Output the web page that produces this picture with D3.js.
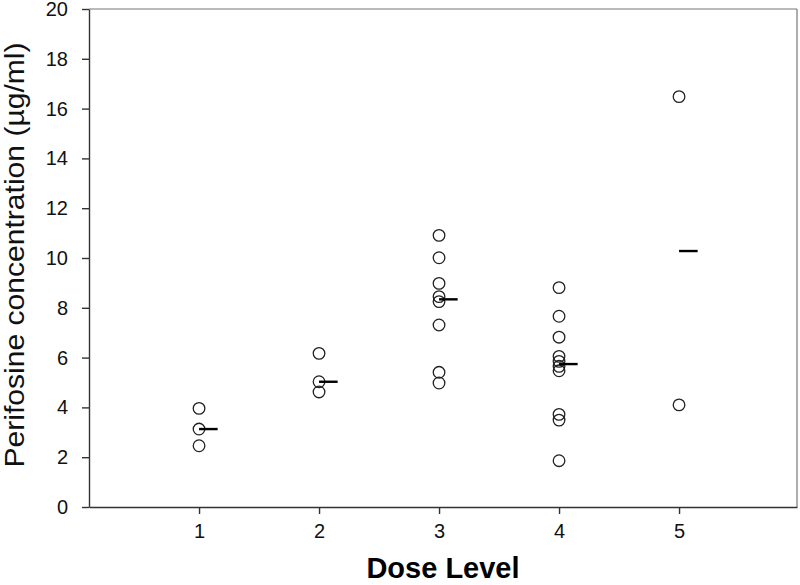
<!DOCTYPE html>
<html>
<head>
<meta charset="utf-8">
<script src="https://cdn.jsdelivr.net/npm/d3@7"></script>
<style>
  html, body { margin: 0; padding: 0; background: #fff; }
  svg { display: block; font-family: "Liberation Sans", Arial, Helvetica, sans-serif; }
  .axis path, .axis line { stroke: #333; stroke-width: 1.4; }
  .axis text { fill: #111; font-size: 20px; }
</style>
</head>
<body>
<svg id="chart" width="800" height="585"></svg>
<script>
// ── Data ───────────────────────────────────────────────────────────────────
const doseLevels = [1, 2, 3, 4, 5];
const dose1 = [3.96, 3.13, 2.46];
const dose2 = [6.17, 5.03, 4.62];
const dose3 = [10.91, 10.01, 8.98, 8.45, 8.25, 7.31, 5.41, 4.98];
const dose4 = [8.81, 7.66, 6.82, 6.05, 5.85, 5.65, 5.47, 3.72, 3.49, 1.86];
const dose5 = [16.48, 4.10];
const medians = [3.13, 5.03, 8.34, 5.74, 10.28];
const yTicks = [0, 2, 4, 6, 8, 10, 12, 14, 16, 18, 20];

const groups = [dose1, dose2, dose3, dose4, dose5];
const points = [];
groups.forEach((vals, i) => vals.forEach(v => points.push({ dose: doseLevels[i], value: v })));

// ── Layout ────────────────────────────────────────────────────────────────
const margin = { top: 9, right: 3, bottom: 78, left: 89 };
const totalW = 800, totalH = 585;
const width  = totalW - margin.left - margin.right;
const height = totalH - margin.top - margin.bottom;

const svg = d3.select('#chart')
  .append('g')
  .attr('transform', `translate(${margin.left},${margin.top})`);

const x = d3.scaleLinear()
  .domain([0.083, 5.983])
  .range([0, width]);

const y = d3.scaleLinear()
  .domain([0, 20])
  .range([height, 0]);

// Frame (top and right lines are lighter in the original)
svg.append('line')
  .attr('x1', 0).attr('x2', width).attr('y1', 0).attr('y2', 0)
  .attr('stroke', '#777').attr('stroke-width', 1.2);
svg.append('line')
  .attr('x1', width).attr('x2', width).attr('y1', 0).attr('y2', height)
  .attr('stroke', '#777').attr('stroke-width', 1.2);

// Axes
svg.append('g')
  .attr('class', 'axis')
  .attr('transform', `translate(0,${height})`)
  .call(d3.axisBottom(x)
    .tickValues(doseLevels)
    .tickFormat(d3.format('d'))
    .tickSize(7)
    .tickSizeOuter(0)
    .tickPadding(10));

svg.append('g')
  .attr('class', 'axis')
  .call(d3.axisLeft(y)
    .tickValues(yTicks)
    .tickSize(7)
    .tickSizeOuter(0)
    .tickPadding(14));

// Data circles
svg.selectAll('.pt')
  .data(points)
  .enter()
  .append('circle')
  .attr('class', 'pt')
  .attr('cx', d => x(d.dose))
  .attr('cy', d => y(d.value))
  .attr('r', 5.8)
  .attr('fill', 'none')
  .attr('stroke', '#222')
  .attr('stroke-width', 1.3);

// Median markers
svg.selectAll('.median')
  .data(medians)
  .enter()
  .append('line')
  .attr('class', 'median')
  .attr('x1', (d, i) => x(doseLevels[i]))
  .attr('x2', (d, i) => x(doseLevels[i] + 0.155))
  .attr('y1', d => y(d))
  .attr('y2', d => y(d))
  .attr('stroke', '#000')
  .attr('stroke-width', 2.4);

// Axis titles
svg.append('text')
  .attr('x', width / 2)
  .attr('y', height + 71)
  .attr('text-anchor', 'middle')
  .style('font-size', '29px')
  .style('font-weight', 'bold')
  .attr('fill', '#000')
  .text('Dose Level');

svg.append('text')
  .attr('transform', `translate(${-65},${255 - margin.top}) rotate(-90)`)
  .attr('text-anchor', 'middle')
  .style('font-size', '28px')
  .attr('fill', '#111')
  .attr('textLength', 425)
  .attr('lengthAdjust', 'spacingAndGlyphs')
  .text('Perifosine concentration (µg/ml)');
</script>
</body>
</html>
